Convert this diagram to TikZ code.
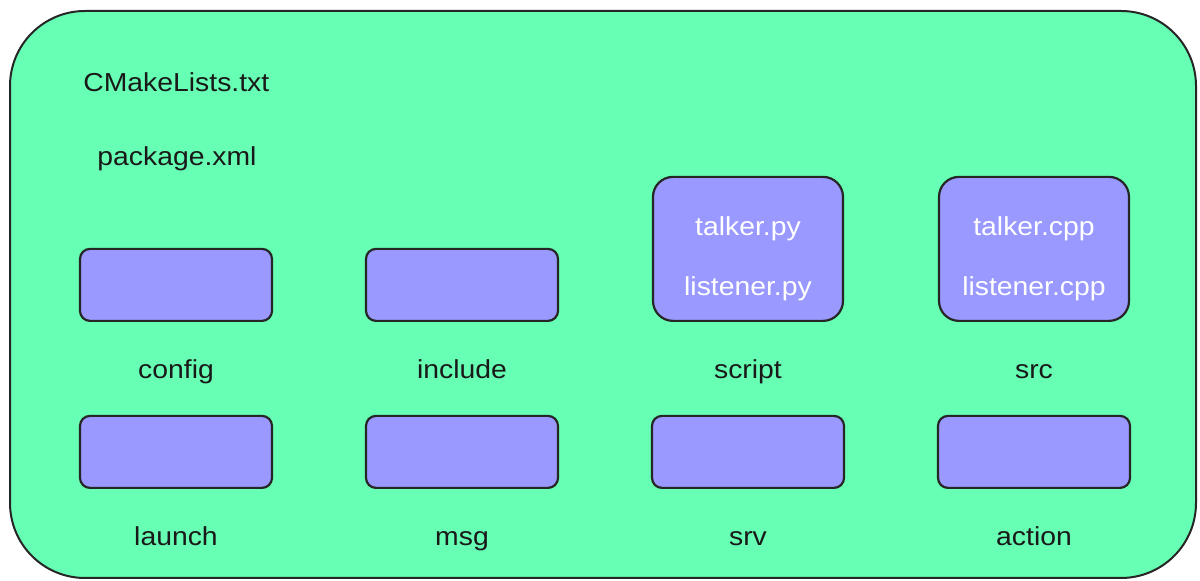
\documentclass[tikz,border=0pt]{standalone}
\usepackage{fontspec}
\setmainfont{Liberation Sans}[FakeStretch=1.09]
\usepackage{tikz}
\usetikzlibrary{positioning}

\definecolor{pkggreen}{RGB}{102,255,179}
\definecolor{dirblue}{RGB}{153,153,255}

\tikzset{
  pkg/.style={draw=black!85, line width=1pt, fill=pkggreen, rounded corners=37.5pt,
    minimum width=593pt, minimum height=283.5pt, inner sep=0pt},
  dir box/.style={draw=black!85, line width=1.1pt, fill=dirblue, rounded corners=5pt,
    minimum width=96pt, minimum height=36pt, inner sep=0pt, anchor=south},
  code box/.style={dir box, rounded corners=10pt, minimum width=95pt, minimum height=72pt},
  label/.style={font=\fontsize{13pt}{15pt}\selectfont, text=black!90, inner sep=0pt, anchor=base},
  file/.style={label, text=white},
}

\begin{document}
\begin{tikzpicture}[x=0.5pt, y=-0.5pt]
    \useasboundingbox (0,0) rectangle (1200,581);

    \node [pkg] (pkg) at (603,294.5) {};

    \node [label, anchor=base west] (cmakelists) at (83,92) {CMakeLists.txt};
    \node [label, anchor=base west] (package) at (97,166) {package.xml};

    \foreach \d/\s [count=\i from 0] in {config/dir box, include/dir box, script/code box, src/code box}
    {
      \node [\s] (box-\d) at (176+\i*286,322) {};
      \node [label] (label-\d) at (176+\i*286,379) {\d};
    }

    \foreach \d [count=\i from 0] in {launch, msg, srv, action}
    {
      \node [dir box] (box-\d) at (176+\i*286,489) {};
      \node [label] (label-\d) at (176+\i*286,546) {\d};
    }

    \node [file] (talker-py) at (748,236) {talker.py};
    \node [file] (listener-py) at (748,296) {listener.py};
    \node [file] (talker-cpp) at (1034,236) {talker.cpp};
    \node [file] (listener-cpp) at (1034,296) {listener.cpp};

\end{tikzpicture}
\end{document}
